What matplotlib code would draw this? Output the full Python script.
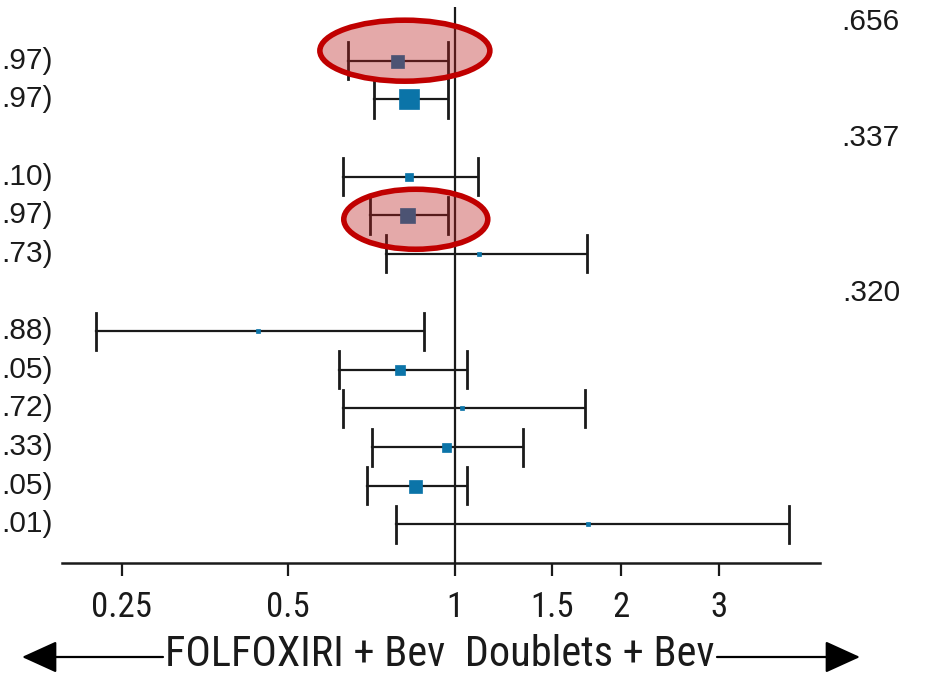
import matplotlib
matplotlib.use("Agg")
import matplotlib.pyplot as plt
from matplotlib.patches import Ellipse, FancyArrowPatch
from matplotlib.transforms import IdentityTransform
import numpy as np

# rows of the forest plot, top to bottom (None = subgroup header row)
row_labels = [None, ".97)", ".97)", None, ".10)", ".97)", ".73)", None,
              ".88)", ".05)", ".72)", ".33)", ".05)", ".01)"]
hr    = [None, 0.786, 0.826, None, 0.826, 0.819, 1.105, None,
         0.440, 0.795, 1.030, 0.963, 0.847, 1.740]
lo    = [None, 0.641, 0.714, None, 0.627, 0.702, 0.750, None,
         0.225, 0.617, 0.627, 0.708, 0.693, 0.782]
hi    = [None, 0.970, 0.970, None, 1.100, 0.970, 1.730, None,
         0.880, 1.050, 1.720, 1.330, 1.050, 4.010]
# marker width (px) ~ study weight
weight = [None, 13, 20, None, 8, 15, 5, None, 4, 10, 5, 9, 13, 5]
# interaction p-values on header rows
p_rows = [0, 3, 7]
p_vals = [".656", ".337", ".320"]
highlight_rows = [1, 5]

xticks = [0.25, 0.5, 1, 1.5, 2, 3]
xticklabels = ["0.25", "0.5", "1", "1.5", "2", "3"]

cond = ["Roboto Condensed", "DejaVu Sans"]
regular = ["Liberation Sans", "DejaVu Sans"]
ink = "#1a1a1a"
blue = "#0b74a8"

W, H = 927, 679
fig = plt.figure(figsize=(W / 100, H / 100), dpi=100)
ax = fig.add_axes([62 / W, 1 - 563 / H, (820 - 62) / W, (563 - 6.6) / H])

ax.set_xscale("log", base=2)
ax.set_xlim(0.195, 4.57)
ax.set_ylim(14.0, -0.4)

for i in range(len(hr)):
    if hr[i] is None:
        continue
    ax.plot([lo[i], hi[i]], [i, i], color=ink, lw=1.6, zorder=2)
    for e in (lo[i], hi[i]):
        ax.plot([e, e], [i - 0.48, i + 0.48], color=ink, lw=2.0, zorder=2)
    ax.plot(hr[i], i, marker="s", ms=weight[i] * 0.72, color=blue, mec=blue,
            mew=0.5, zorder=3, linestyle="none")

ax.axvline(1, color=ink, lw=1.6, zorder=1)

for s in ["top", "right", "left"]:
    ax.spines[s].set_visible(False)
ax.spines["bottom"].set_linewidth(1.8)
ax.spines["bottom"].set_color(ink)
ax.set_yticks([])
ax.set_xticks(xticks)
ax.set_xticklabels(xticklabels, family=cond, fontsize=25, color=ink)
ax.xaxis.set_minor_locator(matplotlib.ticker.NullLocator())
ax.tick_params(axis="x", direction="out", length=9, width=1.6, pad=11, color=ink)

fig.canvas.draw()

# left labels (clipped CI text) and right p-values
for i, lab in enumerate(row_labels):
    if lab is None:
        continue
    yd = ax.transData.transform((1, i))[1]
    fig.text(53 / W, yd / H, lab, ha="right", va="center",
             family=regular, fontsize=21.5, color=ink)
for r, p in zip(p_rows, p_vals):
    yd = ax.transData.transform((1, r))[1]
    fig.text(900 / W, yd / H, p, ha="right", va="center",
             family=regular, fontsize=21.5, color=ink)

# red highlight ellipses over the key rows (pixel sized)
for r, w_px, h_px, dy in zip(highlight_rows, [170, 144], [61, 60], [10, -4]):
    xc_data = np.sqrt(lo[r] * hi[r]) * 1.03
    cx, cy = ax.transData.transform((xc_data, r))
    e = Ellipse((cx, cy + dy), w_px, h_px, transform=IdentityTransform(),
                facecolor=(0.72, 0.12, 0.12, 0.38), edgecolor="#c00000",
                lw=4, zorder=5)
    fig.add_artist(e)

# direction label with arrows
fig.text(440 / W, 1 - 655 / H, "FOLFOXIRI + Bev  Doublets + Bev",
         ha="center", va="center", family=cond, fontsize=30.5, color=ink)
arrow_kw = dict(arrowstyle="-|>,head_length=1.1,head_width=0.5",
                color="black", lw=1.6, shrinkA=0, shrinkB=0)
fig.add_artist(FancyArrowPatch((163 / W, 1 - 657 / H), (22 / W, 1 - 657 / H),
                               transform=fig.transFigure, mutation_scale=20, **arrow_kw))
fig.add_artist(FancyArrowPatch((717 / W, 1 - 657 / H), (860 / W, 1 - 657 / H),
                               transform=fig.transFigure, mutation_scale=20, **arrow_kw))

fig.savefig("out.png", dpi=100)
